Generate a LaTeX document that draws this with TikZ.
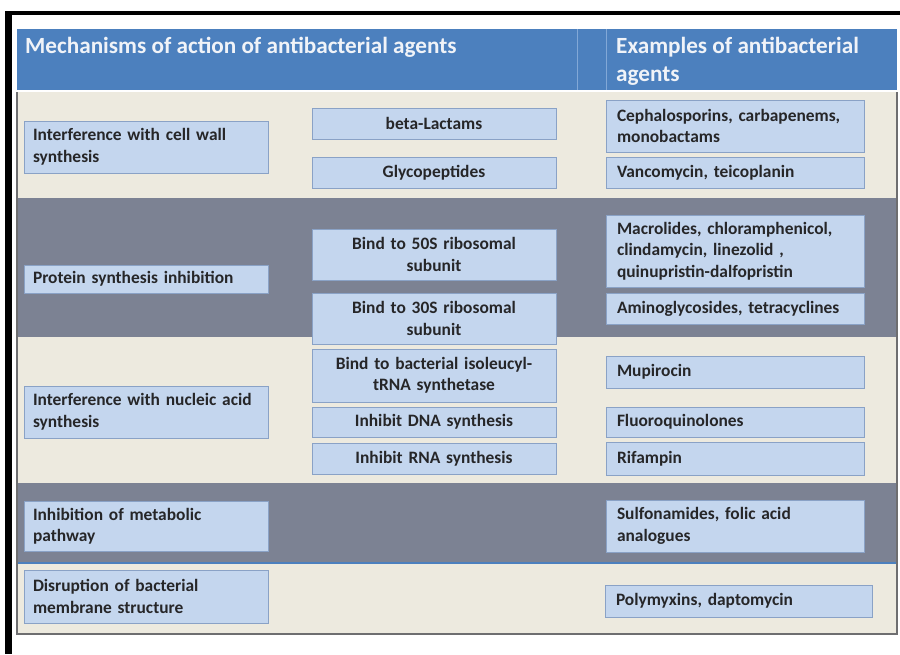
\documentclass[tikz,border=0pt]{standalone}
\usepackage{fontspec}
\setmainfont{Carlito}
\definecolor{hdrblue}{RGB}{76,128,190}
\definecolor{hdrline}{RGB}{130,168,215}
\definecolor{cream}{RGB}{237,234,223}
\definecolor{bandgray}{RGB}{124,130,147}
\definecolor{boxfill}{RGB}{196,214,238}
\definecolor{boxdraw}{RGB}{138,162,198}
\definecolor{txt}{RGB}{38,38,40}
\definecolor{hdrtxt}{RGB}{240,243,248}
\definecolor{frame}{RGB}{110,110,112}
\begin{document}
\begin{tikzpicture}[x=1pt,y=-1pt,
  bx/.style={draw=boxdraw, line width=0.9pt, fill=boxfill, rectangle, inner xsep=0pt, inner ysep=0pt,
    font=\fontsize{17.4}{21.5}\selectfont\bfseries, text=txt},
  lbox/.style={bx, minimum width=244pt, text width=226pt, align=left},
  mbox/.style={bx, minimum width=244pt, text width=240pt, align=center},
  rbox/.style={bx, minimum width=258pt, text width=236pt, align=left},
  hdr/.style={anchor=north west, inner sep=0pt, align=left, text=hdrtxt,
    font=\fontsize{23.2}{28}\selectfont\bfseries}
]
\useasboundingbox (0,0) rectangle (900,654);
\fill[white] (0,0) rectangle (900,654);
% black border (top and left)
\fill[black] (5,11) rectangle (900,15);
\fill[black] (5,11) rectangle (12,654);
% header
\fill[hdrblue] (17,29) rectangle (897,90);
\draw[hdrline, line width=0.8pt] (577,29) -- (577,90);
\draw[hdrline, line width=0.8pt] (606,29) -- (606,90);
\node[hdr] (h1) at (25,37) {Mechanisms of action of antibacterial agents};
\node[hdr] (h2) at (616,37) {Examples of antibacterial\\agents};
% bands
\fill[cream] (17,92) rectangle (897,198);
\fill[bandgray] (17,198) rectangle (897,337);
\fill[cream] (17,337) rectangle (897,483);
\fill[bandgray] (17,483) rectangle (897,563);
\fill[cream] (17,563) rectangle (897,634);
\draw[hdrblue, line width=1.5pt] (17,563) -- (897,563);
\draw[frame, line width=1.5pt] (17,92) -- (17,634) -- (897,634) -- (897,92);
% left column
\node[lbox, minimum height=52pt] (l1) at (146,147) {Interference with cell wall\\synthesis};
\node[lbox, minimum height=28pt] (l2) at (146,279) {Protein synthesis inhibition};
\node[lbox, minimum height=52pt] (l3) at (146,412) {Interference with nucleic acid\\synthesis};
\node[lbox, minimum height=50pt] (l4) at (146,526) {Inhibition of metabolic\\pathway};
\node[lbox, minimum height=53pt] (l5) at (146,596.5) {Disruption of bacterial\\membrane structure};
% middle column
\node[mbox, minimum height=31pt] (m1) at (434,123.5) {beta-Lactams};
\node[mbox, minimum height=31pt] (m2) at (434,172.5) {Glycopeptides};
\node[mbox, minimum height=51pt] (m3) at (434,254.5) {Bind to 50S ribosomal\\subunit};
\node[mbox, minimum height=51pt] (m4) at (434,318.5) {Bind to 30S ribosomal\\subunit};
\node[mbox, minimum height=53pt] (m5) at (434,375.5) {Bind to bacterial isoleucyl-\\tRNA synthetase};
\node[mbox, minimum height=30pt] (m6) at (434,422) {Inhibit DNA synthesis};
\node[mbox, minimum height=31pt] (m7) at (434,458.5) {Inhibit RNA synthesis};
% right column
\node[rbox, minimum height=52pt] (r1) at (735,126) {Cephalosporins, carbapenems,\\monobactams};
\node[rbox, minimum height=31pt] (r2) at (735,172.5) {Vancomycin, teicoplanin};
\node[rbox, minimum height=72pt] (r3) at (735,251) {Macrolides, chloramphenicol,\\clindamycin, linezolid ,\\quinupristin-dalfopristin};
\node[rbox, minimum height=31pt] (r4) at (735,308.5) {Aminoglycosides, tetracyclines};
\node[rbox, minimum height=32pt] (r5) at (735,372) {Mupirocin};
\node[rbox, minimum height=30pt] (r6) at (735,422) {Fluoroquinolones};
\node[rbox, minimum height=33pt] (r7) at (735,458.5) {Rifampin};
\node[rbox, minimum height=52pt] (r8) at (735,526) {Sulfonamides, folic acid\\analogues};
\node[rbox, minimum width=267pt, text width=245pt, minimum height=32pt] (r9) at (738.5,601) {Polymyxins, daptomycin};
\end{tikzpicture}
\end{document}
